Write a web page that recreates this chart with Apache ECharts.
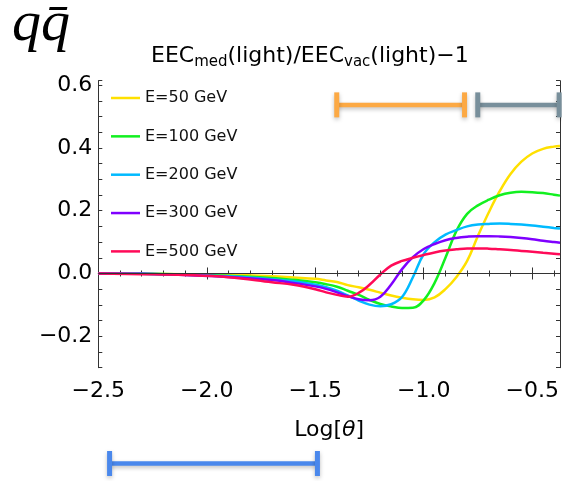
<!DOCTYPE html>
<html>
<head>
<meta charset="utf-8">
<script src="https://cdn.jsdelivr.net/npm/echarts@6/dist/echarts.min.js"></script>
<style>
html, body { margin: 0; padding: 0; background: #fff; }
#main { width: 562px; height: 481px; }
</style>
</head>
<body>
<div id="main"></div>
<script>
// 横轴 Log[theta] 取样点
var logTheta = [-2.5, -2.3, -2.1, -1.9, -1.7, -1.6, -1.5, -1.45, -1.4, -1.35, -1.3, -1.25, -1.2, -1.15, -1.1,
	-1.05, -1.0, -0.95, -0.9, -0.85, -0.8, -0.75, -0.7, -0.65, -0.6, -0.55, -0.5, -0.45, -0.4, -0.372];

// 各能量的 EEC 比值 - 1
var e50 = [0, -0.001, -0.002, -0.004, -0.009, -0.013, -0.017, -0.022, -0.027, -0.037, -0.044, -0.052, -0.061, -0.07, -0.077,
	-0.082, -0.084, -0.076, -0.05, -0.012, 0.04, 0.12, 0.195, 0.262, 0.317, 0.356, 0.382, 0.397, 0.404, 0.406];
var e100 = [0, -0.001, -0.003, -0.007, -0.014, -0.02, -0.028, -0.034, -0.042, -0.055, -0.068, -0.084, -0.097, -0.105, -0.11,
	-0.109, -0.085, -0.03, 0.05, 0.135, 0.19, 0.217, 0.235, 0.249, 0.257, 0.26, 0.259, 0.256, 0.251, 0.248];
var e200 = [0, -0.001, -0.004, -0.009, -0.018, -0.025, -0.036, -0.044, -0.055, -0.07, -0.086, -0.099, -0.104, -0.098, -0.075,
	-0.012, 0.062, 0.1, 0.124, 0.138, 0.15, 0.156, 0.158, 0.159, 0.158, 0.156, 0.153, 0.149, 0.145, 0.143];
var e300 = [0, -0.001, -0.005, -0.011, -0.021, -0.03, -0.041, -0.049, -0.06, -0.072, -0.082, -0.085, -0.074, -0.035, 0.014,
	0.052, 0.078, 0.094, 0.106, 0.113, 0.117, 0.119, 0.119, 0.118, 0.116, 0.113, 0.109, 0.104, 0.1, 0.098];
var e500 = [0, -0.002, -0.005, -0.012, -0.028, -0.036, -0.05, -0.06, -0.068, -0.074, -0.062, -0.036, -0.003, 0.025, 0.04,
	0.05, 0.059, 0.067, 0.073, 0.077, 0.08, 0.08, 0.079, 0.077, 0.075, 0.072, 0.069, 0.066, 0.063, 0.061];

var seriesNames = ['E=50 GeV', 'E=100 GeV', 'E=200 GeV', 'E=300 GeV', 'E=500 GeV'];
var seriesData = [e50, e100, e200, e300, e500];
var seriesColors = ['#ffe000', '#12f020', '#00baff', '#7f00ff', '#ff0a58'];

// 区间条
var orangeBar = [-1.401, -0.812];
var grayBar = [-0.751, -0.376];
var blueBar = [-2.448, -1.49];
var barLevel = 0.537;

var font = 'DejaVu Sans';

function minusFmt(v) {
	var s = Math.abs(v).toFixed(1);
	return (v < -1e-9 ? '\u2212' : '') + s;
}

function toPairs(ys) {
	return logTheta.map(function(x, i) {
		return [x, ys[i]];
	});
}

// 区间条用 line + rect 端点
function rangeBar(range, level, color, xi, yi) {
	return {
		type: 'line',
		xAxisIndex: xi,
		yAxisIndex: yi,
		data: [[range[0], level], [range[1], level]],
		symbol: 'rect',
		symbolSize: [5, 25],
		showSymbol: true,
		clip: false,
		silent: true,
		lineStyle: {
			color: color,
			width: 4.5,
			shadowColor: 'rgba(0,0,0,0.25)',
			shadowBlur: 4,
			shadowOffsetY: 2
		},
		itemStyle: {
			color: color,
			shadowColor: 'rgba(0,0,0,0.25)',
			shadowBlur: 4,
			shadowOffsetY: 2
		},
		z: 3
	};
}

var series = seriesNames.map(function(name, i) {
	var s = {
		name: name,
		type: 'line',
		xAxisIndex: 0,
		yAxisIndex: 0,
		data: toPairs(seriesData[i]),
		smooth: 0.4,
		symbol: 'none',
		lineStyle: { width: 2.5, color: seriesColors[i] },
		itemStyle: { color: seriesColors[i] },
		z: 4
	};
	if (i === 0) {
		// 零线
		s.markLine = {
			silent: true,
			symbol: ['none', 'none'],
			label: { show: false },
			lineStyle: { color: '#333', width: 1, type: 'solid' },
			data: [{ yAxis: 0 }]
		};
	}
	return s;
});
series.push(rangeBar(orangeBar, barLevel, '#fca944', 0, 0));
series.push(rangeBar(grayBar, barLevel, '#788f9b', 0, 0));
series.push(rangeBar(blueBar, 0, '#4a88ec', 2, 2));

var axisLineStyle = { lineStyle: { color: '#333', width: 1 } };

function xAxisCfg(pos, labels) {
	return {
		type: 'value',
		gridIndex: 0,
		position: pos,
		min: -2.5,
		max: -0.372,
		interval: 0.5,
		axisLine: axisLineStyle,
		axisTick: { inside: true, length: 6, lineStyle: { color: '#333' } },
		minorTick: { show: true, splitNumber: 5, length: 3, lineStyle: { color: '#333' } },
		splitLine: { show: false },
		axisLabel: {
			show: labels,
			formatter: minusFmt,
			fontSize: 22,
			fontFamily: font,
			color: '#000',
			margin: 13,
			showMaxLabel: false
		}
	};
}

function yAxisCfg(pos, labels) {
	return {
		type: 'value',
		gridIndex: 0,
		position: pos,
		min: -0.3,
		max: 0.614,
		interval: 0.05,
		axisLine: axisLineStyle,
		axisTick: { inside: true, length: 4, lineStyle: { color: '#333' } },
		splitLine: { show: false },
		axisLabel: {
			show: labels,
			fontSize: 22,
			fontFamily: font,
			color: '#000',
			margin: 6,
			formatter: function(v) {
				if (Math.abs(v * 5 - Math.round(v * 5)) > 1e-6) return '';
				return minusFmt(v);
			}
		}
	};
}

var xBottom = xAxisCfg('bottom', true);
xBottom.name = 'Log[{i|θ}]';
xBottom.nameLocation = 'middle';
xBottom.nameGap = 52;
xBottom.nameTextStyle = {
	fontSize: 22,
	fontFamily: font,
	color: '#000',
	rich: { i: { fontSize: 22, fontFamily: font, fontStyle: 'italic', color: '#000' } }
};

var myChart = echarts.init(document.getElementById('main'));
var option = {
	animation: false,
	backgroundColor: '#fff',
	title: [
		{
			text: 'qq\u0304',
			left: 7,
			top: -9,
			textStyle: {
				fontFamily: 'Liberation Serif',
				fontStyle: 'italic',
				fontWeight: 'normal',
				fontSize: 58,
				color: '#000'
			}
		},
		{
			text: '{a|EEC}{s|med}{a|(light)/EEC}{s|vac}{a|(light)\u22121}',
			left: 146,
			top: 40,
			textStyle: {
				fontWeight: 'normal',
				rich: {
					a: { fontSize: 22, fontFamily: font, fontWeight: 'normal', color: '#000', lineHeight: 22, verticalAlign: 'top' },
					s: { fontSize: 15, fontFamily: font, fontWeight: 'normal', color: '#000', lineHeight: 15, padding: [10, 0, 0, 0], verticalAlign: 'top' }
				}
			}
		}
	],
	legend: {
		data: seriesNames,
		orient: 'vertical',
		icon: 'rect',
		left: 111,
		top: 90,
		padding: 0,
		itemWidth: 29,
		itemHeight: 2.5,
		itemGap: 22.35,
		textStyle: { fontSize: 16, fontFamily: font, color: '#111', lineHeight: 16 }
	},
	grid: [
		{ left: 98.3, right: 2, top: 80.7, bottom: 113.3 },
		{ left: 98.3, right: 2, top: 451, height: 25 }
	],
	xAxis: [
		xBottom,
		xAxisCfg('top', false),
		{ type: 'value', gridIndex: 1, min: -2.5, max: -0.372, show: false }
	],
	yAxis: [
		yAxisCfg('left', true),
		yAxisCfg('right', false),
		{ type: 'value', gridIndex: 1, min: -1, max: 1, show: false }
	],
	series: series
};
option && myChart.setOption(option);
</script>
</body>
</html>
